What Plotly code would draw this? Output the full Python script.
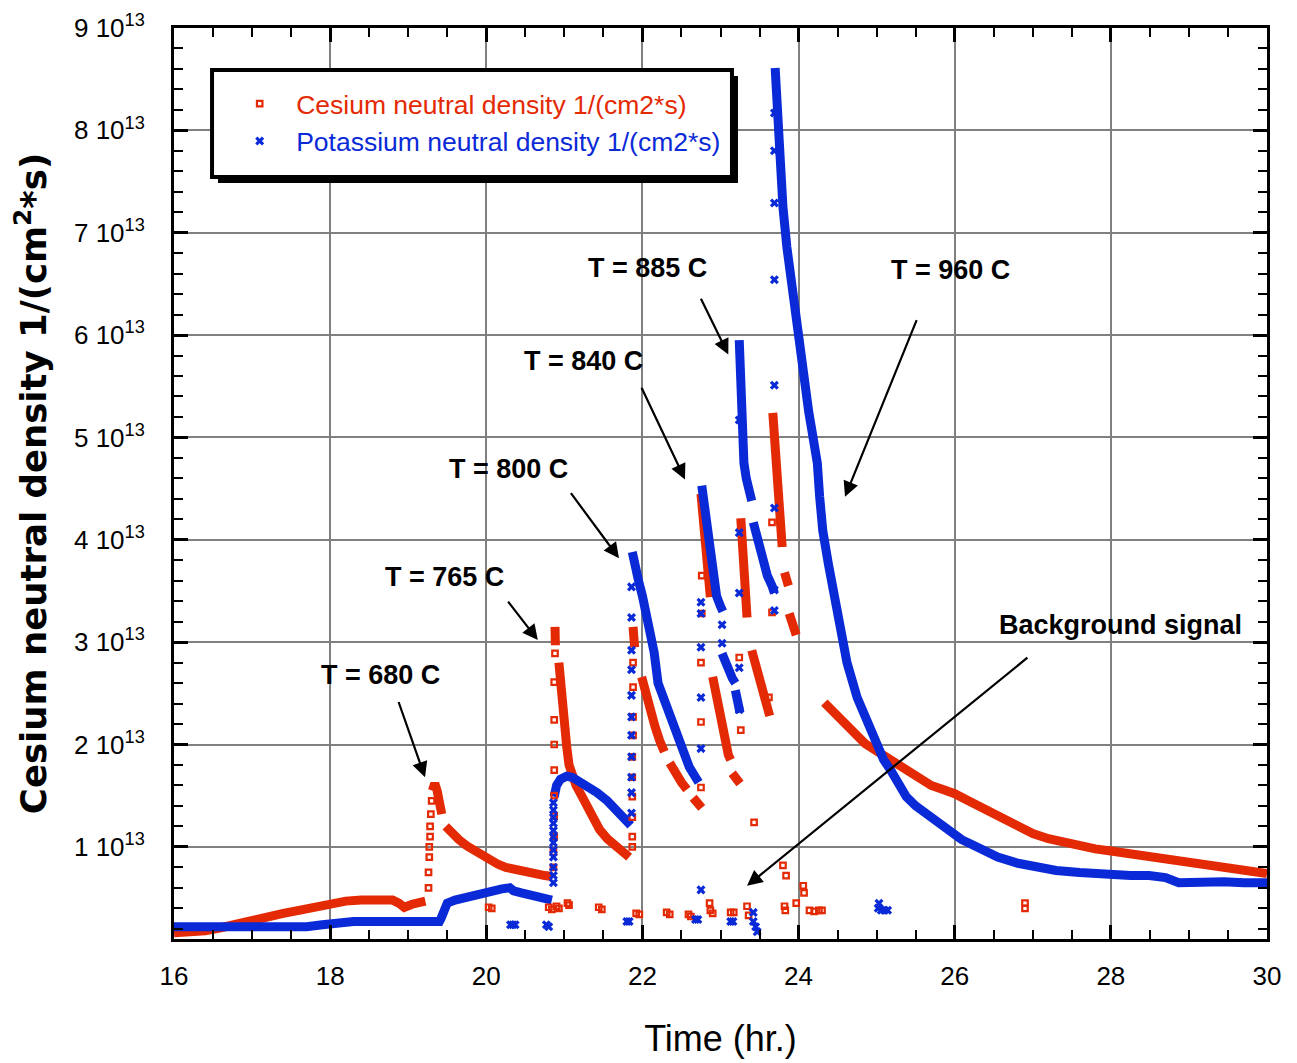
import plotly.graph_objects as go

# ---------------- data (values in units of 1e13 1/(cm2*s)) ----------------
# Cesium: continuous bands (None separates segments)
cs_band_t = [16.0, 16.2, 16.4, 16.6, 16.8, 17.0, 17.2, 17.4, 17.6, 17.8, 18.0, 18.2, 18.4, 18.6, 18.8, 18.88, 18.95, 19.05, 19.15, 19.22, None,
             19.31, 19.34, 19.37, 19.40, 19.43, None,
             19.48, 19.55, 19.65, 19.75, 19.85, 19.95, 20.05, 20.15, 20.25, 20.35, 20.45, 20.55, 20.65, 20.75, 20.84, None,
             20.88, 20.885, None,
             20.93, 20.95, 20.97, 21.0, 21.03, 21.06, 21.1, 21.15, 21.2, 21.27, 21.35, 21.45, 21.55, 21.65, 21.75, 21.83, None,
             21.88, 21.9, None,
             21.99, 22.04, 22.1, 22.16, 22.22, 22.28, None,
             22.35, 22.42, 22.5, 22.57, None,
             22.65, 22.72, 22.76, None,
             22.75, 22.78, 22.81, 22.84, 22.87, None,
             22.9, 22.95, 23.0, 23.05, 23.1, 23.13, None,
             23.15, 23.2, 23.25, None,
             23.26, 23.28, 23.3, 23.32, 23.34, None,
             23.4, 23.44, 23.48, 23.53, 23.58, 23.63, None,
             23.67, 23.69, 23.71, 23.73, 23.76, 23.79, None,
             23.82, 23.87, None,
             23.88, 23.92, 23.97, None,
             24.33, 24.38, 24.45, 24.55, 24.65, 24.75, 24.85, 24.95, 25.05, 25.2, 25.35, 25.5, 25.7, 25.85, 26.0, 26.2, 26.4,
             26.6, 26.8, 27.0, 27.2, 27.4, 27.6, 27.8, 28.0, 28.25, 28.5, 28.75, 29.0, 29.25, 29.5, 29.75, 30.0]
cs_band_v = [0.16, 0.16, 0.18, 0.21, 0.25, 0.29, 0.32, 0.35, 0.38, 0.41, 0.45, 0.47, 0.48, 0.48, 0.48, 0.45, 0.41, 0.44, 0.46, 0.47, None,
             1.55, 1.62, 1.55, 1.42, 1.32, None,
             1.20, 1.14, 1.07, 1.01, 0.96, 0.91, 0.86, 0.83, 0.80, 0.78, 0.76, 0.75, 0.73, 0.72, 0.71, None,
             3.15, 2.97, None,
             2.80, 2.60, 2.43, 2.20, 1.98, 1.80, 1.70, 1.60, 1.53, 1.42, 1.30, 1.17, 1.08, 1.01, 0.95, 0.90, None,
             3.15, 2.95, None,
             2.66, 2.50, 2.34, 2.18, 2.04, 1.93, None,
             1.82, 1.72, 1.63, 1.56, None,
             1.48, 1.41, 1.38, None,
             4.45, 4.15, 3.85, 3.60, 3.44, None,
             2.66, 2.45, 2.25, 2.05, 1.90, 1.85, None,
             1.72, 1.66, 1.62, None,
             4.21, 3.95, 3.70, 3.45, 3.24, None,
             2.92, 2.80, 2.65, 2.50, 2.38, 2.28, None,
             5.24, 5.00, 4.75, 4.50, 4.20, 3.93, None,
             3.68, 3.55, None,
             3.28, 3.18, 3.07, None,
             2.41, 2.37, 2.30, 2.22, 2.14, 2.07, 2.01, 1.96, 1.91, 1.83, 1.75, 1.68, 1.60, 1.56, 1.52, 1.44, 1.36,
             1.28, 1.20, 1.13, 1.08, 1.04, 1.01, 0.98, 0.96, 0.93, 0.90, 0.87, 0.84, 0.81, 0.79, 0.77, 0.74]

# Cesium: isolated points (rise points and background signal)
cs_pts_t = [19.26, 19.26, 19.27, 19.27, 19.28, 19.28, 19.29, 19.30,
            20.86, 20.86, 20.87, 20.87, 20.87, 20.87, 20.87, 20.87, 20.87, 20.88,
            21.87, 21.87, 21.87, 21.87, 21.87, 21.87, 21.88, 21.88, 21.88, 21.88,
            22.75, 22.75, 22.75, 22.76, 22.76,
            23.26, 23.24, 23.43, 23.62, 23.66, 23.66, 23.80, 23.84, 24.06, 24.07,
            20.03, 20.07, 20.80, 20.84, 20.90, 20.93, 21.04, 21.06, 21.44, 21.48, 21.92, 21.96, 22.31, 22.35,
            22.59, 22.62, 22.86, 22.87, 22.90, 23.13, 23.17, 23.34, 23.36, 23.82, 23.83, 23.97, 24.14, 24.20,
            24.26, 24.30, 26.90, 26.90]
cs_pts_v = [0.60, 0.75, 0.90, 1.00, 1.10, 1.20, 1.32, 1.45,
            0.80, 0.95, 1.10, 1.30, 1.50, 1.75, 2.00, 2.24, 2.61, 2.89,
            1.00, 1.10, 1.29, 1.49, 1.68, 1.88, 2.09, 2.27, 2.56, 2.80,
            1.58, 2.22, 2.80, 3.28, 3.65,
            2.14, 2.85, 1.24, 2.46, 3.29, 4.17, 0.82, 0.72, 0.62, 0.55,
            0.41, 0.40, 0.41, 0.39, 0.42, 0.40, 0.45, 0.43, 0.41, 0.39, 0.35, 0.34, 0.36, 0.34,
            0.34, 0.32, 0.45, 0.38, 0.35, 0.36, 0.36, 0.42, 0.33, 0.42, 0.38, 0.45, 0.38, 0.37,
            0.38, 0.38, 0.40, 0.45]

# Potassium: continuous bands
k_band_t = [16.0, 16.2, 16.4, 16.6, 16.8, 17.0, 17.1, 17.2, 17.3, 17.5, 17.7, 17.9, 18.1, 18.3, 18.5, 18.7, 18.9, 19.1, 19.3, 19.4,
            19.42, 19.46, 19.5, 19.6, 19.7, 19.8, 19.9, 20.0, 20.1, 20.2, 20.3, 20.35, 20.45, 20.55, 20.65, 20.75, 20.84, None,
            20.87, 20.9, 20.95, 21.03, 21.1, 21.2, 21.3, 21.42, 21.55, 21.65, 21.75, 21.85, None,
            21.87, 21.9, 21.95, 22.0, 22.05, 22.1, 22.15, 22.2, 22.27, 22.35, 22.43, 22.52, 22.6, 22.68, 22.72, None,
            22.76, 22.78, 22.81, 22.84, 22.87, 22.91, 22.95, 23.0, 23.03, None,
            23.02, 23.06, 23.1, 23.15, 23.19, None,
            23.19, 23.22, 23.25, None,
            23.24, 23.25, 23.26, 23.27, 23.28, 23.3, 23.33, 23.36, 23.4, None,
            23.42, 23.48, 23.54, 23.6, 23.66, 23.69, None,
            23.7, 23.71, 23.72, 23.74, 23.76, 23.8, 23.85, 23.9, 23.96, 24.02, 24.08, 24.13, 24.17, 24.24, 24.27, 24.31, 24.38,
            24.47, 24.56, 24.62, 24.75, 24.88, 25.0, 25.09, 25.18, 25.28, 25.38, 25.5, 25.62, 25.75, 25.85, 26.0, 26.09, 26.2,
            26.34, 26.55, 26.81, 27.05, 27.3, 27.6, 28.0, 28.25, 28.49, 28.7, 28.87, 29.1, 29.45, 29.7, 30.0]
k_band_v = [0.22, 0.22, 0.22, 0.22, 0.22, 0.22, 0.21, 0.20, 0.21, 0.21, 0.22, 0.24, 0.26, 0.27, 0.27, 0.27, 0.27, 0.27, 0.27, 0.27,
            0.30, 0.38, 0.45, 0.48, 0.50, 0.53, 0.55, 0.57, 0.58, 0.59, 0.60, 0.57, 0.55, 0.53, 0.51, 0.50, 0.48, None,
            1.49, 1.60, 1.66, 1.69, 1.68, 1.64, 1.59, 1.53, 1.45, 1.37, 1.29, 1.21, None,
            3.88, 3.75, 3.60, 3.45, 3.28, 3.10, 2.90, 2.60, 2.45, 2.25, 2.08, 1.90, 1.78, 1.68, 1.63, None,
            4.53, 4.40, 4.20, 4.00, 3.80, 3.60, 3.45, 3.35, 3.30, None,
            2.89, 2.80, 2.72, 2.65, 2.60, None,
            2.53, 2.42, 2.31, None,
            5.95, 5.70, 5.45, 5.20, 4.95, 4.75, 4.60, 4.50, 4.38, None,
            4.17, 3.98, 3.80, 3.65, 3.55, 3.48, None,
            8.61, 8.45, 8.30, 8.00, 7.74, 7.25, 6.86, 6.55, 6.25, 5.95, 5.55, 5.25, 5.07, 4.75, 4.42, 4.09, 3.77,
            3.44, 3.12, 2.80, 2.46, 2.21, 1.97, 1.85, 1.75, 1.60, 1.49, 1.40, 1.33, 1.25, 1.19, 1.12, 1.07, 1.03,
            0.97, 0.90, 0.84, 0.80, 0.77, 0.75, 0.72, 0.72, 0.72, 0.70, 0.65, 0.66, 0.66, 0.65, 0.65]

# Potassium: isolated points
k_pts_t = [20.86, 20.86, 20.86, 20.86, 20.86, 20.86, 20.86, 20.86, 20.86, 20.86, 20.86, 20.86,
           21.86, 21.86, 21.86, 21.86, 21.86, 21.86, 21.86, 21.86, 21.86, 21.86, 21.86,
           22.75, 22.75, 22.75, 22.75, 22.75, 22.75, 23.02, 23.02,
           23.24, 23.24, 23.24, 23.24, 23.24,
           23.69, 23.69, 23.69, 23.69, 23.69, 23.69, 23.69, 23.69,
           20.31, 20.34, 20.37, 20.77, 20.80, 21.80, 21.83, 22.68, 22.71, 23.13, 23.16, 23.42, 23.42, 23.45, 23.47,
           25.02, 25.06, 25.10, 25.14, 25.03]
k_pts_v = [0.65, 0.72, 0.80, 0.90, 0.97, 1.04, 1.10, 1.16, 1.23, 1.29, 1.36, 1.43,
           1.33, 1.53, 1.68, 1.88, 2.09, 2.27, 2.48, 2.73, 2.92, 3.24, 3.54,
           0.58, 1.96, 2.46, 2.95, 3.28, 3.39, 3.17, 2.99,
           2.34, 2.75, 3.48, 4.07, 5.17,
           3.31, 3.51, 4.31, 5.51, 6.54, 7.29, 7.80, 8.17,
           0.24, 0.24, 0.24, 0.24, 0.22, 0.27, 0.27, 0.29, 0.29, 0.27, 0.27, 0.36, 0.27, 0.22, 0.17,
           0.40, 0.38, 0.38, 0.38, 0.45]

y_tick_vals = [1, 2, 3, 4, 5, 6, 7, 8, 9]
y_tick_text = ["%d 10<sup>13</sup>" % k for k in y_tick_vals]
x_tick_vals = [16, 18, 20, 22, 24, 26, 28, 30]

# annotation labels and arrows
labels = ["T = 680 C", "T = 765 C", "T = 800 C", "T = 840 C", "T = 885 C", "T = 960 C", "Background signal"]
label_t = [18.65, 19.47, 20.28, 21.24, 22.06, 25.94, 28.12]
label_v = [2.68, 3.64, 4.69, 5.75, 6.66, 6.64, 3.17]
arrow_tail_t = [18.87, 20.265, 21.07, 21.98, 22.74, 25.52, 26.95]
arrow_tail_v = [2.43, 3.41, 4.47, 5.50, 6.37, 6.16, 2.86]
arrow_head_t = [19.215, 20.66, 21.70, 22.545, 23.10, 24.595, 23.34]
arrow_head_v = [1.68, 3.02, 3.82, 4.59, 5.81, 4.42, 0.62]

SCALE = 1e13
RED = "#e42a04"
BLUE = "#0a2ad8"
SANS = "Liberation Sans, Arial, sans-serif"


def sc(vals):
    return [None if v is None else v * SCALE for v in vals]


fig = go.Figure()

fig.add_trace(go.Scatter(x=cs_band_t, y=sc(cs_band_v), mode="lines", line=dict(color=RED, width=9),
                         showlegend=False, hoverinfo="skip", legendgroup="cs"))
fig.add_trace(go.Scatter(x=k_band_t, y=sc(k_band_v), mode="lines", line=dict(color=BLUE, width=9),
                         showlegend=False, hoverinfo="skip", legendgroup="k"))
fig.add_trace(go.Scatter(x=cs_pts_t, y=sc(cs_pts_v), mode="markers", legendgroup="cs",
                         name='<span style="color:%s">Cesium neutral density 1/(cm2*s)</span>' % RED,
                         marker=dict(symbol="square-open", size=5.5, color=RED, line=dict(width=2.2, color=RED))))
fig.add_trace(go.Scatter(x=k_pts_t, y=sc(k_pts_v), mode="markers", legendgroup="k",
                         name='<span style="color:%s">Potassium neutral density 1/(cm2*s)</span>' % BLUE,
                         marker=dict(symbol="x", size=8, color=BLUE, line=dict(width=0))))

annotations = []
for i, lab in enumerate(labels):
    annotations.append(dict(x=label_t[i], y=label_v[i] * SCALE, xref="x", yref="y", text="<b>%s</b>" % lab,
                            showarrow=False, xanchor="center", yanchor="middle",
                            font=dict(family=SANS, size=27, color="black")))
    annotations.append(dict(x=arrow_head_t[i], y=arrow_head_v[i] * SCALE, ax=arrow_tail_t[i], ay=arrow_tail_v[i] * SCALE,
                            xref="x", yref="y", axref="x", ayref="y", text="", showarrow=True,
                            arrowhead=2, arrowsize=1.4, arrowwidth=2.2, arrowcolor="black"))

# legend box with drop shadow (paper coordinates)
shapes = [
    dict(type="rect", xref="paper", yref="paper", x0=0.0403, x1=0.5160, y0=0.8299, y1=0.9473,
         fillcolor="black", line=dict(width=0), layer="above"),
    dict(type="rect", xref="paper", yref="paper", x0=0.0348, x1=0.5105, y0=0.8364, y1=0.9539,
         fillcolor="white", line=dict(width=4, color="black"), layer="above"),
]

axis_common = dict(showline=True, linecolor="black", linewidth=3, mirror="ticks",
                   ticks="inside", ticklen=14, tickwidth=2.5, tickcolor="black",
                   showgrid=True, gridcolor="#808080", gridwidth=2, zeroline=False)

fig.update_layout(
    width=1289, height=1055,
    margin=dict(l=166, r=30, t=20, b=124, autoexpand=False),
    paper_bgcolor="white", plot_bgcolor="white",
    showlegend=True,
    legend=dict(x=0.045, y=0.943, xanchor="left", yanchor="top", bgcolor="rgba(0,0,0,0)", borderwidth=0,
                font=dict(family=SANS, size=26.5), tracegroupgap=0, itemwidth=63),
    xaxis=dict(range=[16, 30], tickvals=x_tick_vals, ticklabelstandoff=12,
               tickfont=dict(family=SANS, size=26, color="black"),
               title=dict(text="Time (hr.)", font=dict(family=SANS, size=36, color="black"), standoff=36),
               minor=dict(ticks="inside", ticklen=9, tickwidth=2, tickcolor="black", dtick=0.5, showgrid=False),
               **axis_common),
    yaxis=dict(range=[0.1 * SCALE, 9 * SCALE], tickvals=[v * SCALE for v in y_tick_vals], ticktext=y_tick_text,
               ticklabelstandoff=21,
               tickfont=dict(family=SANS, size=26, color="black"),
               title=dict(text="Cesium neutral density 1/(cm<sup>2</sup>*s)",
                          font=dict(family="DejaVu Sans", size=35.5, color="black", weight="bold"), standoff=24),
               minor=dict(ticks="inside", ticklen=9, tickwidth=2, tickcolor="black", dtick=0.2 * SCALE, showgrid=False),
               **axis_common),
    annotations=annotations,
    shapes=shapes,
)

fig.write_html("out.html")
